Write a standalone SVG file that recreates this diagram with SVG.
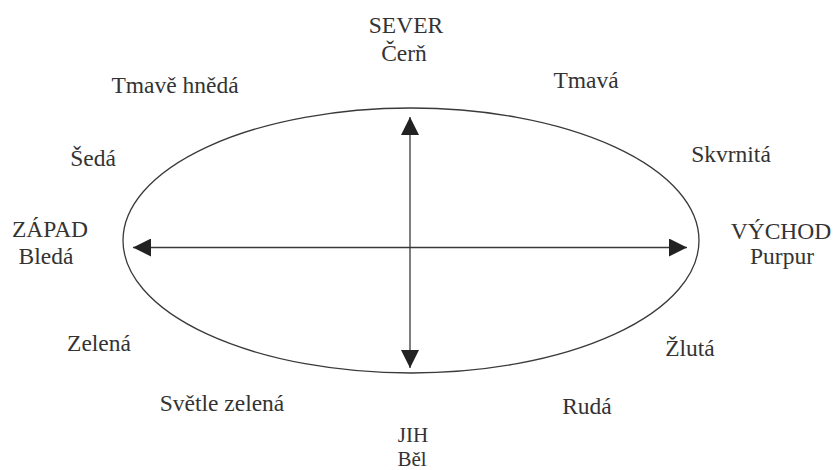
<svg xmlns="http://www.w3.org/2000/svg" width="836" height="470" viewBox="0 0 836 470">
<style>
text{font-family:"Liberation Serif","Times New Roman",serif;font-size:23.5px;fill:#333;text-anchor:middle}
.sm{font-size:21px}
.ln{stroke:#3a3a3a;stroke-width:1.3;fill:none}
</style>
<defs>
<marker id="ah" markerUnits="userSpaceOnUse" markerWidth="18" markerHeight="18" refX="18" refY="9" orient="auto-start-reverse" viewBox="0 0 18 18">
<path d="M0,0 L18,9 L0,18 z" fill="#222"/>
</marker>
</defs>
<rect width="836" height="470" fill="#fff"/>
<g id="ellipse"><ellipse class="ln" cx="411" cy="240.5" rx="288" ry="132.5"/></g>
<g id="connectors">
<line class="ln" x1="133" y1="247.5" x2="687" y2="247.5" marker-start="url(#ah)" marker-end="url(#ah)"/>
<line class="ln" x1="410" y1="117" x2="410" y2="368" marker-start="url(#ah)" marker-end="url(#ah)"/>
</g>
<g id="north"><text x="406" y="33">SEVER</text><text x="404" y="61">Čerň</text></g>
<g id="south"><text class="sm" x="413" y="442">JIH</text><text class="sm" x="412" y="466">Běl</text></g>
<g id="west"><text x="50" y="237">ZÁPAD</text><text x="46" y="264">Bledá</text></g>
<g id="east"><text x="781" y="239">VÝCHOD</text><text x="782" y="264">Purpur</text></g>
<g id="tmave-hneda"><text x="175" y="93">Tmavě hnědá</text></g>
<g id="tmava"><text x="586" y="88">Tmavá</text></g>
<g id="seda"><text x="93" y="166">Šedá</text></g>
<g id="skvrnita"><text x="731" y="162">Skvrnitá</text></g>
<g id="zelena"><text x="99" y="351">Zelená</text></g>
<g id="svetle-zelena"><text x="222" y="411">Světle zelená</text></g>
<g id="zluta"><text x="690" y="356">Žlutá</text></g>
<g id="ruda"><text x="587" y="414">Rudá</text></g>
</svg>
